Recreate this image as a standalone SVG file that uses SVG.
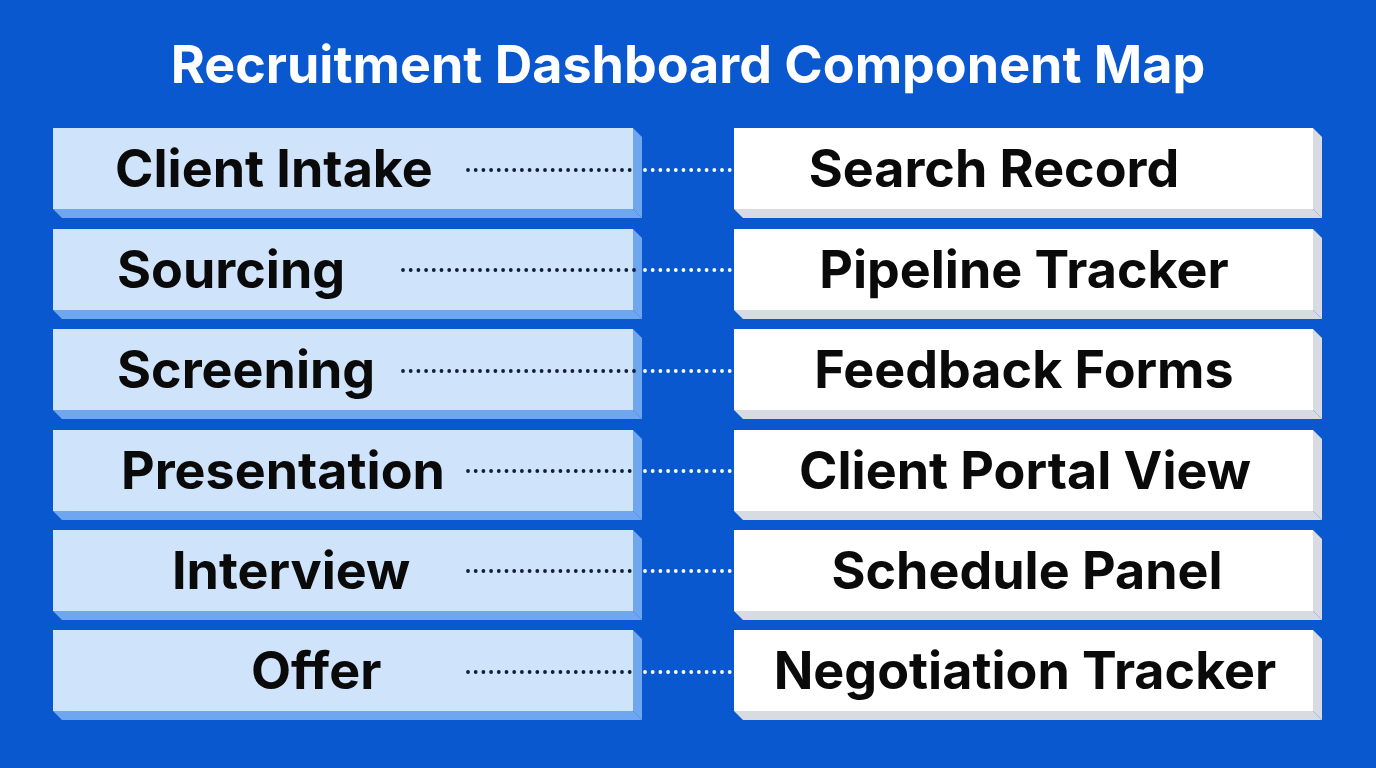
<svg xmlns="http://www.w3.org/2000/svg" width="1376" height="768" viewBox="0 0 1376 768">
<defs>
<style>
.bg{fill:#0a58d0}
.lf{fill:#cfe3fb}
.ls{fill:#6ea6ef}
.rf{fill:#ffffff}
.rs{fill:#d8dce2}
.t{font-family:Inter,"Liberation Sans",sans-serif;font-weight:700;font-size:52px;fill:#0a0a0a}
.tc{text-anchor:middle}
.title{font-family:Inter,"Liberation Sans",sans-serif;font-weight:700;font-size:52px;fill:#ffffff;text-anchor:middle}
.dd{stroke:#0f1e3c;stroke-width:3.8;stroke-linecap:round;stroke-dasharray:0 7.7;fill:none}
.dw{stroke:#ffffff;stroke-width:3.8;stroke-linecap:round;stroke-dasharray:0 7.7;fill:none}
</style>
<g id="lbox">
<polygon class="ls" points="580,0 589,9 589,90 580,81"/>
<polygon class="ls" points="0,81 580,81 589,90 9,90"/>
<rect class="lf" x="0" y="0" width="580" height="81"/>
</g>
<g id="rbox">
<polygon class="rs" points="579,0 588,9 588,90 579,81"/>
<polygon class="rs" points="0,81 579,81 588,90 9,90"/>
<rect class="rf" x="0" y="0" width="579" height="81"/>
</g>
</defs>
<rect class="bg" x="0" y="0" width="1376" height="768"/>
<text class="title" x="688" y="83">Recruitment Dashboard Component Map</text>

<g id="node-client-intake"><use href="#lbox" x="53" y="128"/><text class="t" x="115" y="187">Client Intake</text></g>
<g id="node-sourcing"><use href="#lbox" x="53" y="229"/><text class="t" x="117" y="288">Sourcing</text></g>
<g id="node-screening"><use href="#lbox" x="53" y="329"/><text class="t" x="117" y="388">Screening</text></g>
<g id="node-presentation"><use href="#lbox" x="53" y="430"/><text class="t" x="121" y="489">Presentation</text></g>
<g id="node-interview"><use href="#lbox" x="53" y="530"/><text class="t" x="172" y="589">Interview</text></g>
<g id="node-offer"><use href="#lbox" x="53" y="630"/><text class="t" x="251" y="689">Offer</text></g>

<g id="node-search-record"><use href="#rbox" x="734" y="128"/><text class="t tc" x="994" y="187">Search Record</text></g>
<g id="node-pipeline-tracker"><use href="#rbox" x="734" y="229"/><text class="t tc" x="1024" y="288">Pipeline Tracker</text></g>
<g id="node-feedback-forms"><use href="#rbox" x="734" y="329"/><text class="t tc" x="1024" y="388">Feedback Forms</text></g>
<g id="node-client-portal-view"><use href="#rbox" x="734" y="430"/><text class="t tc" x="1025" y="489">Client Portal View</text></g>
<g id="node-schedule-panel"><use href="#rbox" x="734" y="530"/><text class="t tc" x="1027" y="589">Schedule Panel</text></g>
<g id="node-negotiation-tracker"><use href="#rbox" x="734" y="630"/><text class="t tc" x="1025" y="689">Negotiation Tracker</text></g>

<g id="connectors">
<line class="dd" x1="468" y1="170" x2="637" y2="170"/><line class="dw" x1="645" y1="170" x2="732" y2="170"/>
<line class="dd" x1="403" y1="270" x2="637" y2="270"/><line class="dw" x1="645" y1="270" x2="732" y2="270"/>
<line class="dd" x1="403" y1="371" x2="637" y2="371"/><line class="dw" x1="645" y1="371" x2="732" y2="371"/>
<line class="dd" x1="468" y1="471" x2="637" y2="471"/><line class="dw" x1="645" y1="471" x2="732" y2="471"/>
<line class="dd" x1="468" y1="571" x2="637" y2="571"/><line class="dw" x1="645" y1="571" x2="732" y2="571"/>
<line class="dd" x1="468" y1="672" x2="637" y2="672"/><line class="dw" x1="645" y1="672" x2="732" y2="672"/>
</g>
</svg>
